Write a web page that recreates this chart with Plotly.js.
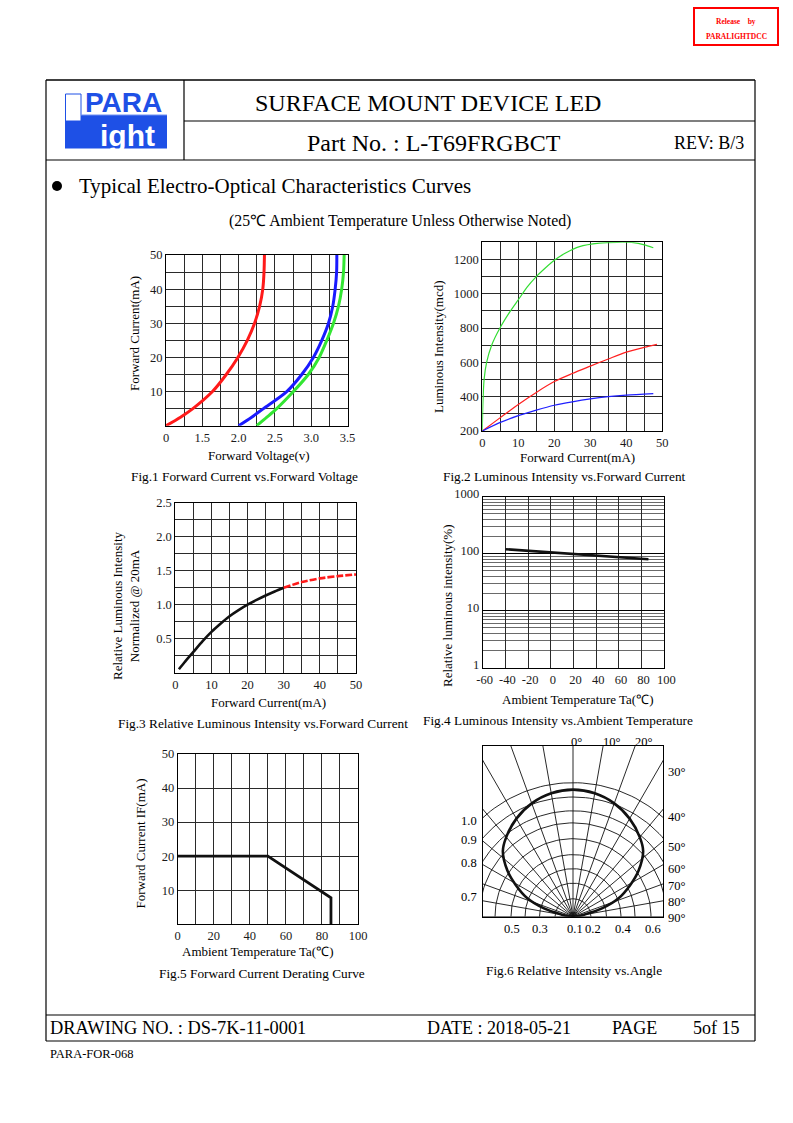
<!DOCTYPE html>
<html><head><meta charset="utf-8">
<script src="https://cdn.plot.ly/plotly-3.0.1.min.js"></script>
<style>html,body{margin:0;padding:0;background:#fff;}#chart{width:793px;height:1123px;}</style>
</head><body><div id="chart"></div>
<script>
// ===== Fig.1 Forward Current vs Forward Voltage =====
const fig1Current = [0, 2.5, 5, 10, 15, 20, 25, 30, 35, 40, 45, 50];
const fig1RedVoltage = [1.0, 1.2, 1.37, 1.64, 1.83, 1.99, 2.12, 2.22, 2.29, 2.333, 2.35, 2.356];
const fig1BlueVoltage = [2.0, 2.18, 2.342, 2.663, 2.87, 3.03, 3.146, 3.238, 3.297, 3.33, 3.35, 3.353];
const fig1GreenVoltage = [2.25, 2.39, 2.525, 2.755, 2.96, 3.11, 3.215, 3.307, 3.376, 3.42, 3.445, 3.454];
const fig1XTickVals = [1.0, 1.25, 1.5, 1.75, 2.0, 2.25, 2.5, 2.75, 3.0, 3.25, 3.5];
const fig1XTickText = ['0', '', '1.5', '', '2.0', '', '2.5', '', '3.0', '', '3.5'];
const fig1YTickVals = [0, 5, 10, 15, 20, 25, 30, 35, 40, 45, 50];
const fig1YTickText = ['', '', '10', '', '20', '', '30', '', '40', '', '50'];

// ===== Fig.2 Luminous Intensity vs Forward Current =====
const fig2GreenCurrent = [0, 0.15, 0.5, 1.2, 2.6, 4.9, 7.5, 10, 12.5, 15, 17.5, 20, 23, 27, 32.5, 37.5, 42, 45, 47.5];
const fig2GreenIntensity = [200, 350, 500, 600, 700, 800, 890, 965, 1040, 1100, 1150, 1195, 1236, 1275, 1295, 1300, 1298, 1285, 1268];
const fig2RedCurrent = [0, 5, 10, 15, 20, 25, 30, 35, 40, 45, 48.5];
const fig2RedIntensity = [200, 278, 355, 425, 488, 535, 578, 620, 660, 688, 705];
const fig2BlueCurrent = [0, 5, 10, 15, 20, 25, 30, 35, 40, 47.5];
const fig2BlueIntensity = [200, 250, 290, 322, 350, 370, 387, 400, 409, 418];
const fig2XTickVals = [0, 5, 10, 15, 20, 25, 30, 35, 40, 45, 50];
const fig2XTickText = ['0', '', '10', '', '20', '', '30', '', '40', '', '50'];
const fig2YTickVals = [200, 300, 400, 500, 600, 700, 800, 900, 1000, 1100, 1200, 1300];
const fig2YTickText = ['200', '', '400', '', '600', '', '800', '', '1000', '', '1200', ''];

// ===== Fig.3 Relative Luminous Intensity vs Forward Current =====
const fig3SolidCurrent = [1, 2.5, 5, 7.5, 10, 12.5, 15, 17.5, 20, 22.5, 25, 27.5, 30];
const fig3SolidRelative = [0.05, 0.15, 0.305, 0.46, 0.6, 0.72, 0.83, 0.92, 1.0, 1.07, 1.135, 1.195, 1.25];
const fig3DashCurrent = [30, 35, 40, 45, 50];
const fig3DashRelative = [1.25, 1.333, 1.387, 1.42, 1.445];
const fig3XTickVals = [0, 5, 10, 15, 20, 25, 30, 35, 40, 45, 50];
const fig3XTickText = ['0', '', '10', '', '20', '', '30', '', '40', '', '50'];
const fig3YTickVals = [0, 0.25, 0.5, 0.75, 1.0, 1.25, 1.5, 1.75, 2.0, 2.25, 2.5];
const fig3YTickText = ['', '', '0.5', '', '1.0', '', '1.5', '', '2.0', '', '2.5'];

// ===== Fig.4 Luminous Intensity vs Ambient Temperature =====
const fig4Temperature = [-40, 86];
const fig4Relative = [120, 80];
const fig4XTickVals = [-60, -40, -20, 0, 20, 40, 60, 80, 100];
const fig4XTickText = ['-60', '-40', '-20', '0', '20', '40', '60', '80', '100'];
const fig4YTickVals = [1, 10, 100, 1000];
const fig4YTickText = ['1', '10', '100', '1000'];
const fig4YMinorVals = [2, 3, 4, 5, 6, 7, 8, 9, 20, 30, 40, 50, 60, 70, 80, 90, 200, 300, 400, 500, 600, 700, 800, 900];

// ===== Fig.5 Forward Current Derating Curve =====
const fig5Temperature = [0, 50, 85, 85];
const fig5Current = [20, 20, 7.8, 0];
const fig5XTickVals = [0, 10, 20, 30, 40, 50, 60, 70, 80, 90, 100];
const fig5XTickText = ['0', '', '20', '', '40', '', '60', '', '80', '', '100'];
const fig5YTickVals = [0, 10, 20, 30, 40, 50];
const fig5YTickText = ['', '10', '20', '30', '40', '50'];

// ===== Fig.6 Relative Intensity vs Angle =====
const fig6AngleDeg = [-84, -79, -74, -68, -61, -55, -47, -40, -30, -20, -10, 0, 10, 20, 30, 40, 47, 55, 61, 68, 74, 79, 84];
const fig6Intensity = [0, 0.093, 0.225, 0.367, 0.489, 0.597, 0.716, 0.775, 0.845, 0.9, 0.935, 0.948, 0.935, 0.9, 0.845, 0.775, 0.716, 0.597, 0.489, 0.367, 0.225, 0.093, 0];
const fig6RingRadius = [0.03, 0.134, 0.25, 0.358, 0.463, 0.582, 0.70, 0.79, 0.893, 1.0];
const fig6SpokeAngles = [-90, -80, -70, -60, -50, -40, -30, -20, -10, 0, 10, 20, 30, 40, 50, 60, 70, 80, 90];
const fig6BottomLabels = ['0.5', '0.3', '0.1', '0.2', '0.4', '0.6'];
const fig6LeftLabels = ['1.0', '0.9', '0.8', '0.7'];
const fig6TopLabels = ['0°', '10°', '20°'];
const fig6RightLabels = ['30°', '40°', '50°', '60°', '70°', '80°', '90°'];

// ---------- helpers ----------
const W = 793, H = 1123;
const PX = x => x / W;
const PY = y => 1 - y / H;
const domX = (a, b) => [a / W, b / W];
const domY = (top, bottom) => [1 - bottom / H, 1 - top / H];
const SERIF = 'Liberation Serif, Times New Roman, serif';
const SANS = 'Liberation Sans, Arial, sans-serif';

function ax(extra) {
  return Object.assign({
    showline: true, mirror: true, linecolor: '#000', linewidth: 1,
    showgrid: true, gridcolor: '#2a2a2a', gridwidth: 1, zeroline: false,
    ticks: '', tickmode: 'array', tickfont: {family: SERIF, size: 12.5, color: '#1a1a1a'},
    fixedrange: true
  }, extra);
}
function txt(text, x, y, size, opts) {
  return Object.assign({
    text: text, x: PX(x), y: PY(y), xref: 'paper', yref: 'paper', showarrow: false,
    xanchor: 'center', yanchor: 'middle', font: {family: SERIF, size: size, color: '#000'}
  }, opts || {});
}
function hline(x0, x1, y, w, c) {
  return {type: 'line', xref: 'paper', yref: 'paper', x0: PX(x0), x1: PX(x1), y0: PY(y), y1: PY(y), line: {color: c || '#000', width: w || 1}};
}
function vline(x, y0, y1, w, c) {
  return {type: 'line', xref: 'paper', yref: 'paper', x0: PX(x), x1: PX(x), y0: PY(y0), y1: PY(y1), line: {color: c || '#000', width: w || 1}};
}
function rect(x0, y0, x1, y1, fill, lc, lw) {
  return {type: 'rect', xref: 'paper', yref: 'paper', x0: PX(x0), x1: PX(x1), y0: PY(y1), y1: PY(y0),
    fillcolor: fill || 'rgba(0,0,0,0)', line: {color: lc || 'rgba(0,0,0,0)', width: lw || 0}, layer: 'below'};
}

// ---------- traces ----------
const traces = [];
function line(x, y, xa, ya, color, width, extra) {
  traces.push(Object.assign({x: x, y: y, xaxis: xa, yaxis: ya, type: 'scatter', mode: 'lines',
    line: {color: color, width: width}, hoverinfo: 'skip'}, extra || {}));
}
// Fig1
line(fig1RedVoltage, fig1Current, 'x', 'y', '#ff1a1a', 3, {line: {color: '#ff1a1a', width: 3, shape: 'spline', smoothing: 0.8}});
line(fig1BlueVoltage, fig1Current, 'x', 'y', '#1a1aff', 3, {line: {color: '#1a1aff', width: 3, shape: 'spline', smoothing: 0.8}});
line(fig1GreenVoltage, fig1Current, 'x', 'y', '#33e633', 3, {line: {color: '#33e633', width: 3, shape: 'spline', smoothing: 0.8}});
// Fig2
line(fig2GreenCurrent, fig2GreenIntensity, 'x2', 'y2', '#33dd33', 1.2, {line: {color: '#33dd33', width: 1.2, shape: 'spline', smoothing: 0.6}});
line(fig2RedCurrent, fig2RedIntensity, 'x2', 'y2', '#ff2020', 1.2, {line: {color: '#ff2020', width: 1.2, shape: 'spline', smoothing: 0.8}});
line(fig2BlueCurrent, fig2BlueIntensity, 'x2', 'y2', '#2020ff', 1.2, {line: {color: '#2020ff', width: 1.2, shape: 'spline', smoothing: 0.8}});
// Fig3
line(fig3SolidCurrent, fig3SolidRelative, 'x3', 'y3', '#111', 2.6, {line: {color: '#111', width: 2.6, shape: 'spline', smoothing: 0.8}});
line(fig3DashCurrent, fig3DashRelative, 'x3', 'y3', '#ff1a1a', 2.6, {line: {color: '#ff1a1a', width: 2.6, shape: 'spline', smoothing: 0.8, dash: '7px,2px'}});
// Fig4
line(fig4Temperature, fig4Relative, 'x4', 'y4', '#111', 2.6);
// Fig5
line(fig5Temperature, fig5Current, 'x5', 'y5', '#111', 2.8);
// Fig6 grid: rings and spokes
const ringX = [], ringY = [];
fig6RingRadius.forEach(r => {
  for (let a = -90; a <= 90; a += 2) {
    const t = a * Math.PI / 180;
    ringX.push(r * Math.sin(t)); ringY.push(r * Math.cos(t));
  }
  ringX.push(null); ringY.push(null);
});
line(ringX, ringY, 'x6', 'y6', '#111', 0.9);
const spokeX = [], spokeY = [];
fig6SpokeAngles.forEach(a => {
  const t = a * Math.PI / 180;
  spokeX.push(0, 2 * Math.sin(t), null); spokeY.push(0, 2 * Math.cos(t), null);
});
line(spokeX, spokeY, 'x6', 'y6', '#111', 0.9);
const curveX = fig6AngleDeg.map((a, i) => fig6Intensity[i] * Math.sin(a * Math.PI / 180));
const curveY = fig6AngleDeg.map((a, i) => fig6Intensity[i] * Math.cos(a * Math.PI / 180));
line(curveX, curveY, 'x6', 'y6', '#111', 2.6, {line: {color: '#111', width: 2.6, shape: 'spline', smoothing: 0.9}});

// ---------- layout ----------
const layout = {
  width: W, height: H, margin: {l: 0, r: 0, t: 0, b: 0},
  paper_bgcolor: '#fff', plot_bgcolor: '#fff', showlegend: false, hovermode: false,
  xaxis: ax({domain: domX(166, 347.5), anchor: 'y', range: [1.0, 3.5], tickvals: fig1XTickVals, ticktext: fig1XTickText}),
  yaxis: ax({domain: domY(255, 425.7), anchor: 'x', range: [0, 50], tickvals: fig1YTickVals, ticktext: fig1YTickText}),
  xaxis2: ax({domain: domX(482.3, 662.3), anchor: 'y2', range: [0, 50], tickvals: fig2XTickVals, ticktext: fig2XTickText}),
  yaxis2: ax({domain: domY(242.3, 431), anchor: 'x2', range: [200, 1300], tickvals: fig2YTickVals, ticktext: fig2YTickText}),
  xaxis3: ax({domain: domX(175.3, 356), anchor: 'y3', range: [0, 50], tickvals: fig3XTickVals, ticktext: fig3XTickText}),
  yaxis3: ax({domain: domY(502.7, 672.7), anchor: 'x3', range: [0, 2.5], tickvals: fig3YTickVals, ticktext: fig3YTickText}),
  xaxis4: ax({domain: domX(482.7, 664.3), anchor: 'y4', range: [-60, 100], tickvals: fig4XTickVals, ticktext: fig4XTickText, ticklabelshift: 2}),
  yaxis4: ax({domain: domY(496.7, 667.7), anchor: 'x4', type: 'log', range: [0, 3], tickvals: fig4YTickVals, ticktext: fig4YTickText,
    ticklabelshift: -3,
    gridcolor: '#000', minor: {tickmode: 'array', tickvals: fig4YMinorVals, showgrid: true, gridcolor: '#6a6a6a', gridwidth: 1.2, ticks: ''}}),
  xaxis5: ax({domain: domX(177.7, 358), anchor: 'y5', range: [0, 100], tickvals: fig5XTickVals, ticktext: fig5XTickText}),
  yaxis5: ax({domain: domY(754, 924.3), anchor: 'x5', range: [0, 50], tickvals: fig5YTickVals, ticktext: fig5YTickText}),
  xaxis6: ax({domain: domX(482.7, 663.3), anchor: 'y6', range: [-0.674, 0.674], showgrid: false, showticklabels: false}),
  yaxis6: ax({domain: domY(745.7, 916.7), anchor: 'x6', range: [0, 1.276], showgrid: false, showticklabels: false}),
  shapes: [], annotations: []
};

// page frame
const S = layout.shapes;
S.push(hline(46, 755, 80, 1.6));
S.push(vline(46, 80, 1041, 1.2));
S.push(vline(755, 80, 1041, 1.2));
S.push(vline(184, 80, 160, 1.2));
S.push(hline(184, 755, 121, 1.2));
S.push(hline(46, 755, 160, 1.2));
S.push(hline(46, 755, 1015, 1.2));
S.push(hline(46, 755, 1041, 1.2));
// release stamp
S.push(rect(694, 8, 778, 45, 'rgba(0,0,0,0)', '#ff0000', 2));
// logo
S.push(rect(65, 115, 167, 148.5, '#1e50e6'));
S.push(rect(65.5, 94, 81, 121, '#ffffff', '#1e50e6', 1));
S.push(hline(81, 167, 115, 1, '#6f8ff0'));
// bullet
S.push({type: 'circle', xref: 'paper', yref: 'paper', x0: PX(52), x1: PX(62), y0: PY(191), y1: PY(181), fillcolor: '#000', line: {color: '#000', width: 0}});

const A = layout.annotations;
// stamp text
A.push(txt('<b>Release    by</b>', 736, 21, 7.5, {font: {family: SERIF, size: 7.5, color: '#ff0000'}}));
A.push(txt('<b>PARALIGHTDCC</b>', 736, 36, 7.5, {font: {family: SERIF, size: 7.5, color: '#ff0000'}}));
// logo text
A.push(txt('<b>PARA</b>', 123.5, 102.5, 28, {font: {family: SANS, size: 28, color: '#1e50e6'}}));
A.push(txt('<b>ight</b>', 127, 135, 30, {font: {family: SANS, size: 30, color: '#ffffff'}}));
// header
A.push(txt('SURFACE MOUNT DEVICE LED', 428, 103, 24));
A.push(txt('Part No. : L-T69FRGBCT', 434, 143, 24));
A.push(txt('REV: B/3', 708.5, 143, 18));
A.push(txt('Typical Electro-Optical Characteristics Curves', 77, 186, 21, {xanchor: 'left'}));
A.push(txt('(25℃ Ambient Temperature Unless Otherwise Noted)', 400, 221, 15.8));
// footer
A.push(txt('DRAWING NO. : DS-7K-11-0001', 48, 1028, 18.4, {xanchor: 'left'}));
A.push(txt('DATE : 2018-05-21', 499, 1028, 18));
A.push(txt('PAGE', 634, 1028, 18));
A.push(txt('5of 15', 716, 1028, 18));
A.push(txt('PARA-FOR-068', 48, 1054, 12.5, {xanchor: 'left'}));

// axis titles & captions
const F = 13, C = 13.3, L = 12.5;
A.push(txt('Forward Current(mA)', 134, 334, F, {textangle: -90}));
A.push(txt('Forward Voltage(v)', 259, 456, F));
A.push(txt('Fig.1 Forward Current vs.Forward Voltage', 244, 476.5, C));
A.push(txt('Luminous Intensity(mcd)', 438, 347, F, {textangle: -90}));
A.push(txt('Forward Current(mA)', 577, 458, F));
A.push(txt('Fig.2 Luminous Intensity vs.Forward Current', 564, 476.5, C));
A.push(txt('Relative Luminous Intensity<br>Normalized @ 20mA', 126, 606, F, {textangle: -90}));
A.push(txt('Forward Current(mA)', 268, 702.5, F));
A.push(txt('Fig.3 Relative Luminous Intensity vs.Forward Current', 263, 723.5, C));
A.push(txt('Relative luminous intensity(%)', 447, 606, F, {textangle: -90}));
A.push(txt('Ambient Temperature Ta(℃)', 577, 699, F));
A.push(txt('Fig.4 Luminous Intensity vs.Ambient Temperature', 558, 720, C));
A.push(txt('Forward Current IF(mA)', 139.5, 844, F, {textangle: -90}));
A.push(txt('Ambient Temperature Ta(℃)', 257, 951, F));
A.push(txt('Fig.5 Forward Current Derating Curve', 262, 973.5, C));
A.push(txt('Fig.6 Relative Intensity vs.Angle', 574, 970, C));

// Fig6 labels
const topX = [576.7, 611.7, 644];
fig6TopLabels.forEach((t, i) => A.push(txt(t, topX[i], 741.5, L)));
const rightY = [771.7, 817, 846.7, 869, 886, 902, 918];
fig6RightLabels.forEach((t, i) => A.push(txt(t, 666, rightY[i], L, {xanchor: 'left'})));
const leftY = [820.7, 840, 863, 896.7];
fig6LeftLabels.forEach((t, i) => A.push(txt(t, 479, leftY[i], L, {xanchor: 'right'})));
const bottomX = [511.7, 540, 575, 593, 622.5, 652.5];
fig6BottomLabels.forEach((t, i) => A.push(txt(t, bottomX[i], 929, L)));

Plotly.newPlot('chart', traces, layout, {staticPlot: true, displayModeBar: false});
</script>
</body></html>
